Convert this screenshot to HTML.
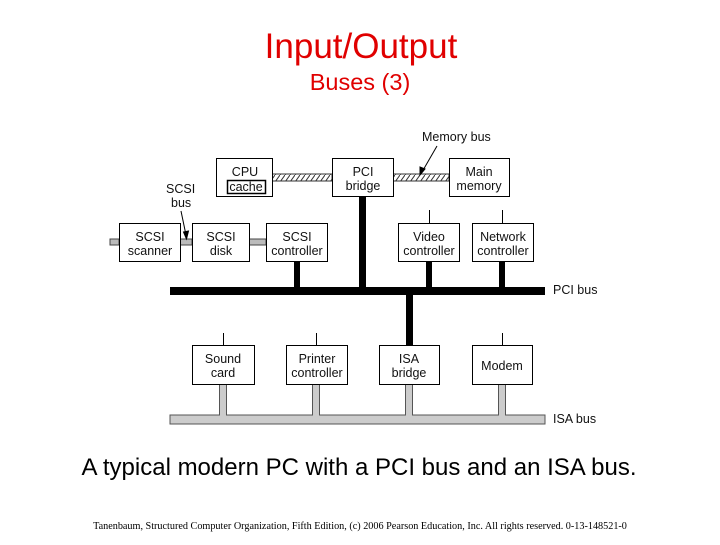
<!DOCTYPE html>
<html><head><style>
body{margin:0;background:#fff;}
svg text{font-family:"Liberation Sans",sans-serif;}
</style></head><body>
<svg width="720" height="540" viewBox="0 0 720 540" xmlns="http://www.w3.org/2000/svg">
<defs>
<pattern id="h" width="5" height="7" patternUnits="userSpaceOnUse">
<rect width="5" height="7" fill="#fff"/>
<line x1="0" y1="7" x2="5" y2="0" stroke="#333" stroke-width="1"/>
</pattern>
</defs>
<text x="361" y="58" font-size="35" fill="#e00000" text-anchor="middle">Input/Output</text>
<text x="360" y="90" font-size="23.5" fill="#e00000" text-anchor="middle">Buses (3)</text>

<rect x="272" y="174" width="60" height="7" fill="url(#h)" stroke="#333" stroke-width="1"/>
<rect x="393" y="174" width="56" height="7" fill="url(#h)" stroke="#333" stroke-width="1"/>
<g fill="#bbb" stroke="#444" stroke-width="1">
<rect x="110" y="239" width="9" height="6"/>
<rect x="180" y="239" width="12" height="6"/>
<rect x="249" y="239" width="17" height="6"/>
</g>
<g fill="#000">
<rect x="294" y="261" width="6" height="28"/>
<rect x="359" y="196" width="7" height="93"/>
<rect x="426" y="261" width="6" height="28"/>
<rect x="499" y="261" width="6" height="28"/>
<rect x="170" y="287" width="375" height="8"/>
<rect x="406" y="293" width="7" height="52"/>
</g>
<g stroke="#000" stroke-width="1">
<line x1="429.5" y1="210" x2="429.5" y2="223"/>
<line x1="502.5" y1="210" x2="502.5" y2="223"/>
<line x1="223.5" y1="333" x2="223.5" y2="345"/>
<line x1="316.5" y1="333" x2="316.5" y2="345"/>
<line x1="502.5" y1="333" x2="502.5" y2="345"/>
</g>
<g fill="#ccc" stroke="#555" stroke-width="1">
<rect x="170" y="415" width="375" height="9"/>
</g>
<g fill="#ccc">
<rect x="220" y="384" width="6" height="33"/>
<rect x="313" y="384" width="6" height="33"/>
<rect x="406" y="384" width="6" height="33"/>
<rect x="499" y="384" width="6" height="33"/>
</g>
<g stroke="#555" stroke-width="1">
<line x1="219.5" y1="384" x2="219.5" y2="415"/><line x1="226.5" y1="384" x2="226.5" y2="415"/>
<line x1="312.5" y1="384" x2="312.5" y2="415"/><line x1="319.5" y1="384" x2="319.5" y2="415"/>
<line x1="405.5" y1="384" x2="405.5" y2="415"/><line x1="412.5" y1="384" x2="412.5" y2="415"/>
<line x1="498.5" y1="384" x2="498.5" y2="415"/><line x1="505.5" y1="384" x2="505.5" y2="415"/>
</g>
<rect x="171" y="416" width="373" height="7" fill="#ccc"/>

<g fill="#fff" stroke="#000" stroke-width="1">
<rect x="216.5" y="158.5" width="56" height="38"/>
<rect x="332.5" y="158.5" width="61" height="38"/>
<rect x="449.5" y="158.5" width="60" height="38"/>
<rect x="119.5" y="223.5" width="61" height="38"/>
<rect x="192.5" y="223.5" width="57" height="38"/>
<rect x="266.5" y="223.5" width="61" height="38"/>
<rect x="398.5" y="223.5" width="61" height="38"/>
<rect x="472.5" y="223.5" width="61" height="38"/>
<rect x="192.5" y="345.5" width="62" height="39"/>
<rect x="286.5" y="345.5" width="61" height="39"/>
<rect x="379.5" y="345.5" width="60" height="39"/>
<rect x="472.5" y="345.5" width="60" height="39"/>
</g>
<rect x="227.5" y="180.5" width="38" height="13" fill="none" stroke="#000" stroke-width="1.5"/>

<g font-size="12.5" fill="#111" text-anchor="middle">
<text x="245" y="176">CPU</text><text x="246" y="191">cache</text>
<text x="363" y="176">PCI</text><text x="363" y="190">bridge</text>
<text x="479" y="176">Main</text><text x="479" y="190">memory</text>
<text x="150" y="241">SCSI</text><text x="150" y="255">scanner</text>
<text x="221" y="241">SCSI</text><text x="221" y="255">disk</text>
<text x="297" y="241">SCSI</text><text x="297" y="255">controller</text>
<text x="429" y="241">Video</text><text x="429" y="255">controller</text>
<text x="503" y="241">Network</text><text x="503" y="255">controller</text>
<text x="223" y="363">Sound</text><text x="223" y="377">card</text>
<text x="317" y="363">Printer</text><text x="317" y="377">controller</text>
<text x="409" y="363">ISA</text><text x="409" y="377">bridge</text>
<text x="502" y="370">Modem</text>
</g>
<g font-size="12.5" fill="#111">
<text x="422" y="141">Memory bus</text>
<text x="166" y="193">SCSI</text>
<text x="171" y="207">bus</text>
<text x="553" y="294">PCI bus</text>
<text x="553" y="423">ISA bus</text>
</g>
<g stroke="#000" stroke-width="1" fill="#000">
<line x1="437" y1="146" x2="422" y2="172"/>
<path d="M420,175 L420,167 L425,169 Z"/>
<line x1="181" y1="211" x2="186" y2="235"/>
<path d="M186.5,239 L183.5,232 L188.5,231 Z"/>
</g>

<text x="359" y="475" font-size="24" fill="#000" text-anchor="middle">A typical modern PC with a PCI bus and an ISA bus.</text>
<text x="360" y="529" font-size="10.2" fill="#000" text-anchor="middle" style="font-family:'Liberation Serif',serif">Tanenbaum, Structured Computer Organization, Fifth Edition, (c) 2006 Pearson Education, Inc. All rights reserved. 0-13-148521-0</text>
</svg>
</body></html>
